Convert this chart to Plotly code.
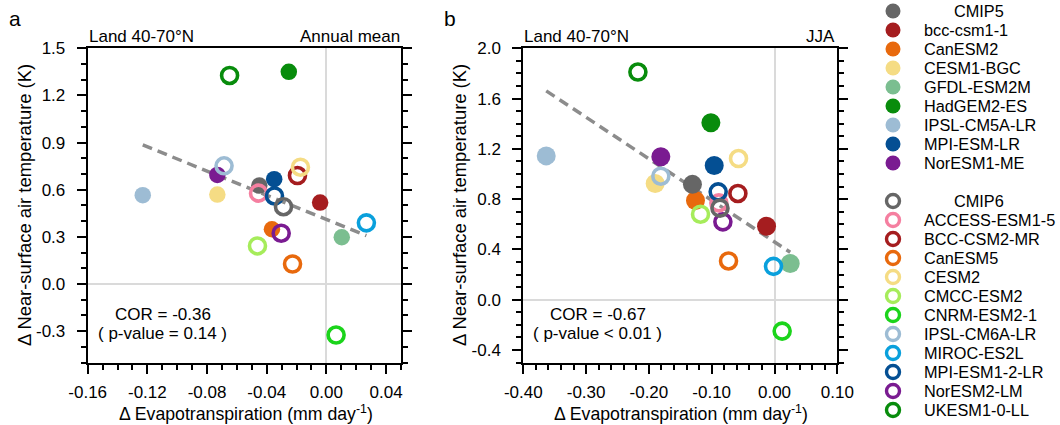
import numpy as np
import plotly.graph_objects as go

# ---------------- data ----------------
cmip5_models = ["bcc-csm1-1", "CanESM2", "CESM1-BGC", "GFDL-ESM2M", "HadGEM2-ES",
                "IPSL-CM5A-LR", "MPI-ESM-LR", "NorESM1-ME"]
cmip5_colors = ["#a51d1f", "#e8690d", "#f5dc84", "#7bbe90", "#088c0c",
                "#9dbcd4", "#044f93", "#7a1b91"]
cmip6_models = ["ACCESS-ESM1-5", "BCC-CSM2-MR", "CanESM5", "CESM2", "CMCC-ESM2",
                "CNRM-ESM2-1", "IPSL-CM6A-LR", "MIROC-ES2L", "MPI-ESM1-2-LR",
                "NorESM2-LM", "UKESM1-0-LL"]
cmip6_colors = ["#f57fa0", "#a51d1f", "#e8690d", "#f5dc84", "#a6ec5b",
                "#1bd41b", "#9dbcd4", "#0aa0dc", "#044f93", "#7a1b91", "#088c0c"]
mean_color = "#666666"

# Panel a: annual mean
a_et5 = [-0.0042, -0.0365, -0.0731, 0.0103, -0.0252, -0.1231, -0.0350, -0.0731]
a_tas5 = [0.518, 0.348, 0.569, 0.297, 1.350, 0.565, 0.667, 0.694]
a_et6 = [-0.0455, -0.0194, -0.0227, -0.0174, -0.0462, 0.0065, -0.0686, 0.0268,
         -0.0348, -0.0303, -0.0649]
a_tas6 = [0.578, 0.690, 0.127, 0.743, 0.242, -0.325, 0.752, 0.389, 0.560, 0.323, 1.327]

# Panel b: JJA
b_et5 = [-0.0127, -0.1258, -0.1900, 0.0250, -0.1013, -0.3635, -0.0960, -0.1810]
b_tas5 = [0.584, 0.789, 0.924, 0.287, 1.407, 1.144, 1.068, 1.137]
b_et6 = [-0.0886, -0.0583, -0.0732, -0.0573, -0.1178, 0.0122, -0.1810, -0.0016,
         -0.0897, -0.0822, -0.2175]
b_tas6 = [0.770, 0.845, 0.308, 1.123, 0.680, -0.250, 0.982, 0.265, 0.858, 0.619, 1.811]

a_xticks = [-0.16, -0.12, -0.08, -0.04, 0.0, 0.04]
a_xlabels = ["-0.16", "-0.12", "-0.08", "-0.04", "0.00", "0.04"]
a_yticks = [-0.3, 0.0, 0.3, 0.6, 0.9, 1.2, 1.5]
a_ylabels = ["-0.3", "0.0", "0.3", "0.6", "0.9", "1.2", "1.5"]
b_xticks = [-0.4, -0.3, -0.2, -0.1, 0.0, 0.1]
b_xlabels = ["-0.40", "-0.30", "-0.20", "-0.10", "0.00", "0.10"]
b_yticks = [-0.4, 0.0, 0.4, 0.8, 1.2, 1.6, 2.0]
b_ylabels = ["-0.4", "0.0", "0.4", "0.8", "1.2", "1.6", "2.0"]

a_cor = ["COR = -0.36", "( p-value = 0.14 )"]
b_cor = ["COR = -0.67", "( p-value < 0.01 )"]
region_label = "Land 40-70\u00b0N"
season_a = "Annual mean"
season_b = "JJA"
x_title = "\u0394 Evapotranspiration (mm day<sup>-1</sup>)"
y_title = "\u0394 Near-surface air temperature (K)"

FONT = "Liberation Sans, Arial, Helvetica, sans-serif"

fig = go.Figure()


def add_panel(xa, ya, et5, tas5, et6, tas6, fs):
    xs = np.array(et5 + et6)
    ys = np.array(tas5 + tas6)
    k, c = np.polyfit(xs, ys, 1)
    lx = np.array([xs.min(), xs.max()])
    fig.add_trace(go.Scatter(x=lx, y=k * lx + c, mode="lines", xaxis=xa, yaxis=ya,
                             line=dict(color="#8c8c8c", width=3.5, dash="10px,6px"),
                             showlegend=False, hoverinfo="skip"))
    fig.add_trace(go.Scatter(x=et5, y=tas5, mode="markers", xaxis=xa, yaxis=ya,
                             marker=dict(color=cmip5_colors, size=fs, line=dict(width=0)),
                             text=cmip5_models, showlegend=False))
    fig.add_trace(go.Scatter(x=[np.mean(et5)], y=[np.mean(tas5)], mode="markers",
                             xaxis=xa, yaxis=ya,
                             marker=dict(color=mean_color, size=fs, line=dict(width=0)),
                             text=["CMIP5"], showlegend=False))
    fig.add_trace(go.Scatter(x=et6, y=tas6, mode="markers", xaxis=xa, yaxis=ya,
                             marker=dict(color=cmip6_colors, symbol="circle-open", size=16,
                                         line=dict(width=3.6)),
                             text=cmip6_models, showlegend=False))
    fig.add_trace(go.Scatter(x=[np.mean(et6)], y=[np.mean(tas6)], mode="markers",
                             xaxis=xa, yaxis=ya,
                             marker=dict(color=mean_color, symbol="circle-open", size=16,
                                         line=dict(width=3.6)),
                             text=["CMIP6"], showlegend=False))


add_panel("x", "y", a_et5, a_tas5, a_et6, a_tas6, 16.5)
add_panel("x2", "y2", b_et5, b_tas5, b_et6, b_tas6, 19)

# ---------------- legend (drawn manually) ----------------
leg_rows5 = list(range(0, 1 + len(cmip5_models)))
leg_rows6 = list(range(10, 11 + len(cmip6_models)))
fig.add_trace(go.Scatter(x=[33] * len(leg_rows5), y=leg_rows5, mode="markers",
                         xaxis="x3", yaxis="y3",
                         marker=dict(color=[mean_color] + cmip5_colors, size=15,
                                     line=dict(width=0)),
                         showlegend=False, hoverinfo="skip"))
fig.add_trace(go.Scatter(x=[33] * len(leg_rows6), y=leg_rows6, mode="markers",
                         xaxis="x3", yaxis="y3",
                         marker=dict(color=[mean_color] + cmip6_colors, symbol="circle-open",
                                     size=13, line=dict(width=3.4)),
                         showlegend=False, hoverinfo="skip"))

LEG_FS = 16.3
annotations = []
for r, name in zip(leg_rows5[1:], cmip5_models):
    annotations.append(dict(x=62, y=r, xref="x3", yref="y3", text=name, showarrow=False,
                            xanchor="left", yanchor="middle", font=dict(size=LEG_FS)))
for r, name in zip(leg_rows6[1:], cmip6_models):
    annotations.append(dict(x=62, y=r, xref="x3", yref="y3", text=name, showarrow=False,
                            xanchor="left", yanchor="middle", font=dict(size=LEG_FS)))
for r, name in [(leg_rows5[0], "CMIP5"), (leg_rows6[0], "CMIP6")]:
    annotations.append(dict(x=119, y=r, xref="x3", yref="y3", text=name, showarrow=False,
                            xanchor="center", yanchor="middle", font=dict(size=LEG_FS)))

W, H = 1060, 425


def px(xp):
    return xp / W


def py(yp):
    return 1 - yp / H


txt = [
    ("a", 15, 18, "center", 21, 0),
    ("b", 450, 18, "center", 21, 0),
    (region_label, 87, 36, "left", 17, 0),
    (season_a, 402, 36, "right", 17, 0),
    (region_label, 522, 36, "left", 17, 0),
    (season_b, 837, 36, "right", 17, 0),
    (a_cor[0], 162.5, 314, "center", 17, 0),
    (a_cor[1], 162.5, 333, "center", 17, 0),
    (b_cor[0], 597.5, 314, "center", 17, 0),
    (b_cor[1], 597.5, 333, "center", 17, 0),
    (x_title, 246, 413, "center", 17.7, 0),
    (x_title, 681, 413, "center", 17.7, 0),
    (y_title, 24, 205, "center", 18.4, -90),
    (y_title, 459, 205, "center", 18.4, -90),
]
for t, xp, yp, anc, fsz, ang in txt:
    annotations.append(dict(x=px(xp), y=py(yp), xref="paper", yref="paper", text=t,
                            showarrow=False, xanchor=anc, yanchor="middle",
                            textangle=ang, font=dict(size=fsz)))

common = dict(showline=True, linewidth=2, linecolor="black", showgrid=False,
              zeroline=True, zerolinecolor="#dadada", zerolinewidth=2,
              ticks="outside", ticklen=9, tickwidth=2, tickcolor="black",
              tickfont=dict(size=17), automargin=False, fixedrange=True)


def minor(d):
    return dict(dtick=d, tick0=0, ticks="outside", ticklen=5, tickwidth=1.5,
                tickcolor="black")


yd = [py(362.5), py(48.3)]
fig.update_layout(
    width=W, height=H, autosize=False,
    margin=dict(l=0, r=0, t=0, b=0),
    paper_bgcolor="white", plot_bgcolor="white",
    font=dict(family=FONT, color="black", size=16),
    xaxis=dict(domain=[px(87.7), px(401)], range=[-0.16, 0.05], anchor="y",
               tickmode="array", tickvals=a_xticks, ticktext=a_xlabels, mirror=True,
               ticklabelstandoff=4, minor=minor(0.01), **common),
    yaxis=dict(domain=yd, range=[-0.5, 1.5], anchor="x",
               tickmode="array", tickvals=a_yticks, ticktext=a_ylabels, mirror="ticks",
               ticklabelstandoff=8, minor=minor(0.1), **common),
    xaxis2=dict(domain=[px(523.3), px(837.3)], range=[-0.4, 0.1], anchor="y2",
                tickmode="array", tickvals=b_xticks, ticktext=b_xlabels, mirror=True,
                ticklabelstandoff=4, minor=minor(0.02), **common),
    yaxis2=dict(domain=yd, range=[-0.5, 2.0], anchor="x2",
                tickmode="array", tickvals=b_yticks, ticktext=b_ylabels, mirror="ticks",
                ticklabelstandoff=8, minor=minor(0.1), **common),
    xaxis3=dict(domain=[px(860), 1.0], range=[0, 200], visible=False, anchor="y3",
                fixedrange=True),
    yaxis3=dict(domain=[0, 1], range=[(H - 11) / 19, -11 / 19], visible=False,
                anchor="x3", fixedrange=True),
    annotations=annotations,
)

fig.write_html("out.html", config={"displayModeBar": False},
               post_script="document.body.style.margin='0px';")
